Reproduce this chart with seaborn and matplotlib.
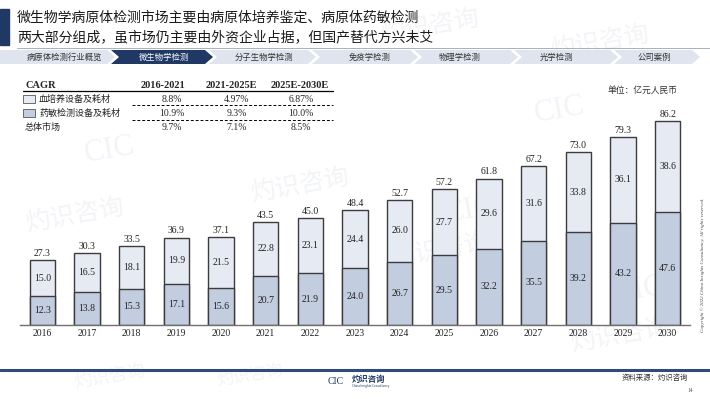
# %% Bibliotecas
import pandas as pd
import numpy as np
import matplotlib
matplotlib.use('Agg')
import matplotlib.pyplot as plt
from matplotlib.patches import Polygon, Rectangle
import seaborn as sns

sns.set_style('white')
plt.rcParams['font.family'] = ['Noto Sans CJK SC', 'DejaVu Sans']
SERIF = ['Liberation Serif', 'DejaVu Serif']

# %% Dados
years = ['2016', '2017', '2018', '2019', '2020', '2021', '2022', '2023',
         '2024', '2025', '2026', '2027', '2028', '2029', '2030']
drug_sens = [12.3, 13.8, 15.3, 17.1, 15.6, 20.7, 21.9, 24.0, 26.7, 29.5, 32.2, 35.5, 39.2, 43.2, 47.6]
blood_culture = [15.0, 16.5, 18.1, 19.9, 21.5, 22.8, 23.1, 24.4, 26.0, 27.7, 29.6, 31.6, 33.8, 36.1, 38.6]
totals = [27.3, 30.3, 33.5, 36.9, 37.1, 43.5, 45.0, 48.4, 52.7, 57.2, 61.8, 67.2, 73.0, 79.3, 86.2]

cagr_periods = ['2016-2021', '2021-2025E', '2025E-2030E']
cagr_rows = ['血培养设备及耗材', '药敏检测设备及耗材', '总体市场']
cagr_blood = ['8.8%', '4.97%', '6.87%']
cagr_drug = ['10.9%', '9.3%', '10.0%']
cagr_total = ['9.7%', '7.1%', '8.5%']

nav_labels = ['病原体检测行业概览', '微生物学检测', '分子生物学检测', '免疫学检测',
              '物理学检测', '光学检测', '公司案例']

df = pd.DataFrame({'year': years, 'lower': drug_sens, 'upper': blood_culture, 'total': totals})

# %% Cores
c_up = '#e6eaf3'
c_low = '#c3cde0'
c_edge = '#3c3c3c'
navy = '#1f3864'
nav_light = '#dfe4ee'
wm = '#f3f4f7'

# %% Figura e fundo
fig = plt.figure(figsize=(7.1, 3.99), dpi=100)
bg = fig.add_axes([0, 0, 1, 1])
bg.set_xlim(0, 710)
bg.set_ylim(399, 0)
bg.axis('off')

# marcas d'agua (bem claras)
for (wx, wy, s) in [(430, 26, 18), (600, 42, 18), (75, 215, 18), (300, 185, 18),
                    (440, 250, 18), (620, 335, 18), (110, 376, 13), (250, 376, 12)]:
    bg.text(wx, wy, '灼识咨询', fontsize=s, color=wm, rotation=10,
            ha='center', va='center', zorder=0)
for (wx, wy) in [(110, 150), (470, 210), (560, 110), (640, 290)]:
    bg.text(wx, wy, 'CIC', fontsize=22, color=wm, rotation=10,
            ha='center', va='center', family=SERIF, zorder=0)

# titulo
bg.add_patch(Rectangle((0, 9), 9, 36, color=navy, zorder=2))
bg.text(17, 18, '微生物学病原体检测市场主要由病原体培养鉴定、病原体药敏检测',
        fontsize=10, va='center', color='#1a1a1a', zorder=3)
bg.text(17, 37, '两大部分组成，虽市场仍主要由外资企业占据，但国产替代方兴未艾',
        fontsize=10, va='center', color='#1a1a1a', zorder=3)
bg.plot([17, 710], [47.5, 47.5], color='#9aa3b5', lw=0.6, zorder=2)

# barra de navegacao
tips = [115, 213, 316, 418, 518, 618, 700]
txt_x = [64, 164, 264, 370, 460, 556, 654]
top, bot, d = 50, 64, 8
start = 0
for i, (tp, lab) in enumerate(zip(tips, nav_labels)):
    mid = (top + bot) / 2
    if i == 0:
        pts = [(start, top), (tp - d, top), (tp, mid), (tp - d, bot), (start, bot)]
    else:
        pts = [(start, top), (tp - d, top), (tp, mid), (tp - d, bot), (start, bot), (start + d, mid)]
    fc = navy if i == 1 else nav_light
    bg.add_patch(Polygon(pts, closed=True, facecolor=fc, edgecolor='none', zorder=2))
    bg.text(txt_x[i], mid, lab, fontsize=6, ha='center', va='center',
            color='white' if i == 1 else '#333333', zorder=3)
    start = tp - d + 4

# tabela CAGR
hx = [163, 231, 300]
vx = [172, 237, 301]
bg.text(25, 85, 'CAGR', fontsize=7.5, weight='bold', family=SERIF, va='center', zorder=3)
for x, p in zip(hx, cagr_periods):
    bg.text(x, 85, p, fontsize=7.5, weight='bold', family=SERIF, ha='center', va='center', zorder=3)
bg.plot([23, 333], [90.5, 90.5], color='black', lw=0.9, zorder=3)
row_y = [99, 113, 127]
for j, (ry, lab, vals) in enumerate(zip(row_y, cagr_rows, [cagr_blood, cagr_drug, cagr_total])):
    if j < 2:
        bg.add_patch(Rectangle((23, ry - 4), 12, 8, facecolor=[c_up, c_low][j],
                               edgecolor='#555555', lw=0.6, zorder=3))
        bg.text(39, ry, lab, fontsize=6.5, va='center', color='#222222', zorder=3)
    else:
        bg.text(25, ry, lab, fontsize=6.5, va='center', color='#222222', zorder=3)
    for x, v in zip(vx, vals):
        bg.text(x, ry, v, fontsize=7, family=SERIF, ha='center', va='center', zorder=3)
for ly in [104.5, 119.5]:
    bg.plot([132, 333], [ly, ly], color='black', lw=0.7, ls=(0, (3, 2)), zorder=3)

bg.text(678, 90, '单位：亿元人民币', fontsize=6.3, ha='right', va='center', color='#333333', zorder=3)

# rodape
bg.plot([0, 710], [370, 370], color='#2e4a7e', lw=2.2, zorder=2)
bg.text(336, 381, 'CIC', fontsize=7, family=SERIF, color=navy, ha='center', va='center', zorder=3)
bg.text(352, 379.5, '灼识咨询', fontsize=6, weight='bold', color=navy, va='center', zorder=3)
bg.text(352, 386, 'China Insights Consultancy', fontsize=2.2, color=navy, va='center', zorder=3)
bg.text(688, 378, '资料来源：灼识咨询', fontsize=5.3, ha='right', va='center', color='#333333', zorder=3)
bg.text(690, 391, '14', fontsize=4, family=SERIF, ha='center', va='center', color='#555555', zorder=3)
bg.text(703, 265, 'Copyright © 2022 China Insights Consultancy. All rights reserved.',
        fontsize=3.6, family=SERIF, style='italic', rotation=90, ha='center', va='center',
        color='#444444', zorder=3)

# %% Grafico de barras empilhadas
ax = fig.add_axes([20 / 710, 1 - 325 / 399, 670 / 710, 225 / 399])
ax.patch.set_alpha(0)
sns.barplot(data=df, x='year', y='total', color=c_up, edgecolor=c_edge, linewidth=1,
            width=0.56, saturation=1, ax=ax)
sns.barplot(data=df, x='year', y='lower', color=c_low, edgecolor=c_edge, linewidth=1,
            width=0.56, saturation=1, ax=ax)
ax.set_xlim(-0.5, len(years) - 0.5)
ax.set_ylim(0, 225 / 2.37)

for i, row in df.iterrows():
    ax.text(i, row['lower'] / 2, f"{row['lower']:.1f}", ha='center', va='center',
            fontsize=7, family=SERIF, color='#222222')
    ax.text(i, row['lower'] + row['upper'] / 2, f"{row['upper']:.1f}", ha='center', va='center',
            fontsize=7, family=SERIF, color='#222222')
    ax.annotate(f"{row['total']:.1f}", (i, row['total']), xytext=(0, 1.5),
                textcoords='offset points', ha='center', va='bottom',
                fontsize=7, family=SERIF, color='#222222')

ax.set_xlabel('')
ax.set_ylabel('')
ax.set_yticks([])
for s in ['top', 'right', 'left']:
    ax.spines[s].set_visible(False)
ax.spines['bottom'].set_color('#707070')
ax.spines['bottom'].set_linewidth(1)
ax.tick_params(axis='x', length=0, pad=3)
for lab in ax.get_xticklabels():
    lab.set_fontfamily(SERIF)
    lab.set_fontsize(7)
    lab.set_color('#222222')

fig.savefig('out.png', dpi=100)
